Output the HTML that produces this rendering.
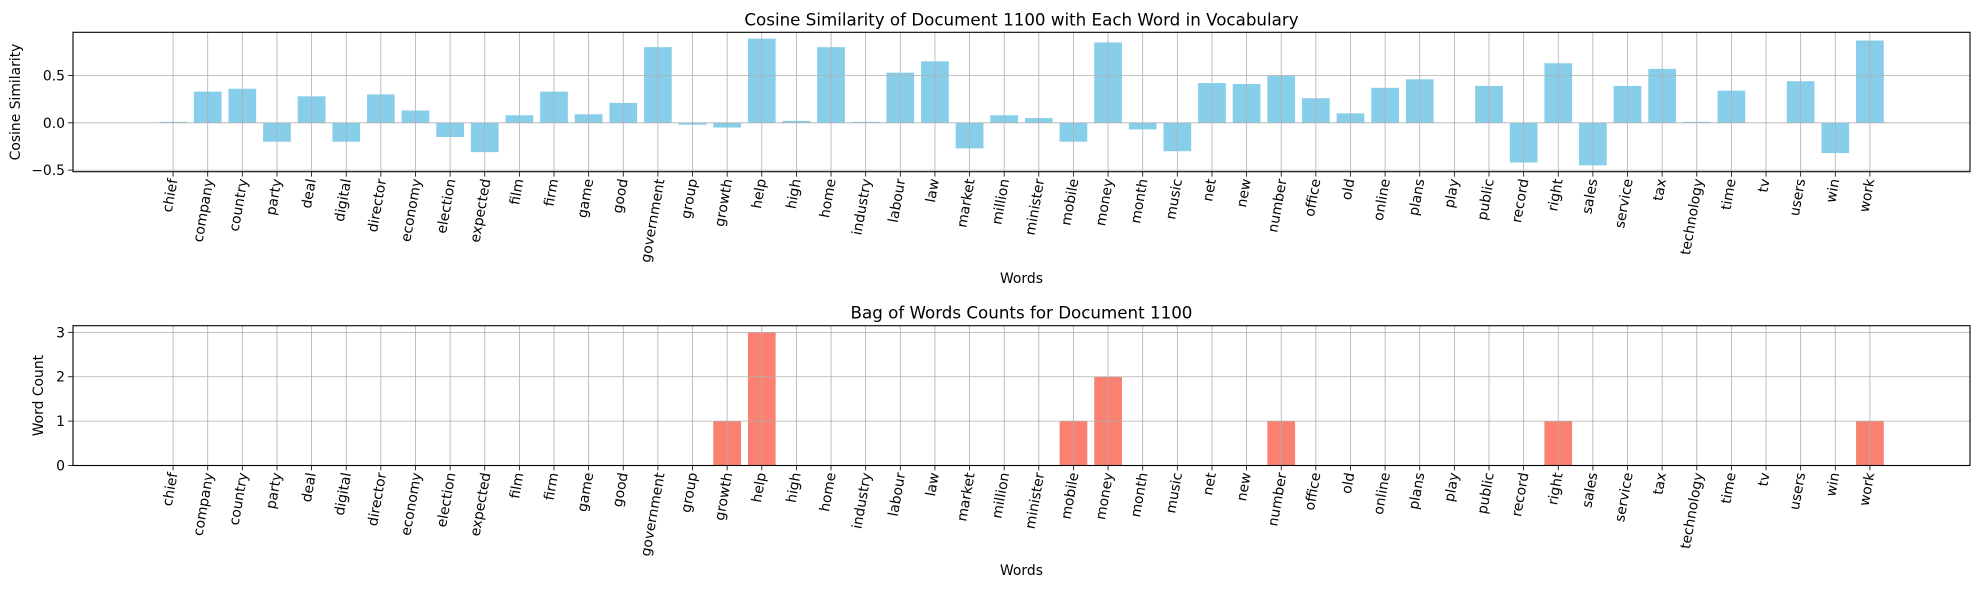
<!DOCTYPE html>
<html><head><meta charset="utf-8"><style>
body{margin:0;background:#fff;}
svg{display:block;font-family:"DejaVu Sans","Liberation Sans",sans-serif;}
</style></head><body>
<svg id="chart" width="1981" height="590" viewBox="0 0 1981 590"></svg>
<script>
const words=["chief","company","country","party","deal","digital","director","economy","election","expected","film","firm","game","good","government","group","growth","help","high","home","industry","labour","law","market","million","minister","mobile","money","month","music","net","new","number","office","old","online","plans","play","public","record","right","sales","service","tax","technology","time","tv","users","win","work"];
const cosineValues=[0.01,0.33,0.36,-0.20,0.28,-0.20,0.30,0.13,-0.15,-0.31,0.08,0.33,0.09,0.21,0.80,-0.02,-0.05,0.89,0.02,0.80,0.01,0.53,0.65,-0.27,0.08,0.05,-0.20,0.85,-0.07,-0.30,0.42,0.41,0.50,0.26,0.10,0.37,0.46,0,0.39,-0.42,0.63,-0.45,0.39,0.57,0.01,0.34,0,0.44,-0.32,0.87];
const countValues=[0,0,0,0,0,0,0,0,0,0,0,0,0,0,0,0,1,3,0,0,0,0,0,0,0,0,1,2,0,0,0,0,1,0,0,0,0,0,0,0,1,0,0,0,0,0,0,0,0,1];
const cosineTicks=[-0.5,0.0,0.5];
const cosineTickLabels=["\u22120.5","0.0","0.5"];
const countTicks=[0,1,2,3];
const countTickLabels=["0","1","2","3"];

const NS="http://www.w3.org/2000/svg";
const svg=document.getElementById('chart');
function mk(tag,attrs,parent){const e=document.createElementNS(NS,tag);for(const k in attrs)e.setAttribute(k,attrs[k]);(parent||svg).appendChild(e);return e;}

function drawPanel(p){
  const n=words.length;
  const xmin=-0.4-0.05*(n-1+0.8), xmax=n-1+0.4+0.05*(n-1+0.8);
  const dmin=Math.min(0,...p.values), dmax=Math.max(0,...p.values);
  const r=dmax-dmin;
  const ymin=p.stickyZero?0:dmin-0.05*r, ymax=dmax+0.05*r;
  const X=v=>p.L+(v-xmin)/(xmax-xmin)*(p.R-p.L);
  const Y=v=>p.B-(v-ymin)/(ymax-ymin)*(p.B-p.T);
  const g=mk('g',{});
  
  
  const bw=X(0.8)-X(0);
  p.values.forEach((v,i)=>{
    const y0=Y(0),y1=Y(v);
    const b=mk('rect',{x:X(i)-bw/2,y:Math.min(y0,y1),width:bw,height:Math.abs(y1-y0),fill:p.color},g);
    
    
  });
  // grid
  words.forEach((w,i)=>{mk('line',{x1:X(i),x2:X(i),y1:p.T,y2:p.B,stroke:'#b0b0b0','stroke-width':0.8},g);});
  p.ticks.forEach((t,j)=>{
    const y=Y(t);
    mk('line',{x1:p.L,x2:p.R,y1:y,y2:y,stroke:'#b0b0b0','stroke-width':0.8},g);
    mk('line',{x1:p.L-4.9,x2:p.L,y1:y,y2:y,stroke:'#000','stroke-width':0.8},g);
    const t2=mk('text',{x:p.L-8,y:y+5,'text-anchor':'end','font-size':13.9},g);
    t2.textContent=p.tickLabels[j];
    
    
  });
  mk('rect',{x:p.L,y:p.T,width:p.R-p.L,height:p.B-p.T,fill:'none',stroke:'#000','stroke-width':1.1},g);
  words.forEach((w,i)=>{
    const x=X(i);
    mk('line',{x1:x,x2:x,y1:p.B,y2:p.B+4.9,stroke:'#000','stroke-width':0.8},g);
    const t=mk('text',{'text-anchor':'end','font-size':13.9},g);
    t.textContent=w;
    
    
    const L=t.getComputedTextLength();
    const ax=x+L*0.0868/2+3, ay=p.B+8;
    t.setAttribute('transform','translate('+ax+','+ay+') rotate(-80)');
    t.setAttribute('y',0);
  });
  const tt=mk('text',{x:(p.L+p.R)/2,y:p.T-7,'text-anchor':'middle','font-size':16.7},g);
  tt.textContent=p.title;
  
  
  const xl=mk('text',{x:(p.L+p.R)/2,y:p.xlabY,'text-anchor':'middle','font-size':13.9},g);
  xl.textContent='Words';
  
  
  const cy=(p.T+p.B)/2;
  const yl=mk('text',{x:0,y:0,'text-anchor':'middle','font-size':13.9,transform:'translate('+p.ylabX+','+cy+') rotate(-90)'},g);
  yl.textContent=p.ylabel;
  
  
}
drawPanel({name:'cosine-similarity-panel',values:cosineValues,ticks:cosineTicks,tickLabels:cosineTickLabels,color:'#87ceeb',L:73,R:1970,T:32.3,B:171.7,stickyZero:false,title:'Cosine Similarity of Document 1100 with Each Word in Vocabulary',ylabel:'Cosine Similarity',xlabY:283,ylabX:20});
drawPanel({name:'bag-of-words-panel',values:countValues,ticks:countTicks,tickLabels:countTickLabels,color:'#fa8072',L:73,R:1970,T:325.7,B:465.5,stickyZero:true,title:'Bag of Words Counts for Document 1100',ylabel:'Word Count',xlabY:575,ylabX:43});
</script>
</body></html>
